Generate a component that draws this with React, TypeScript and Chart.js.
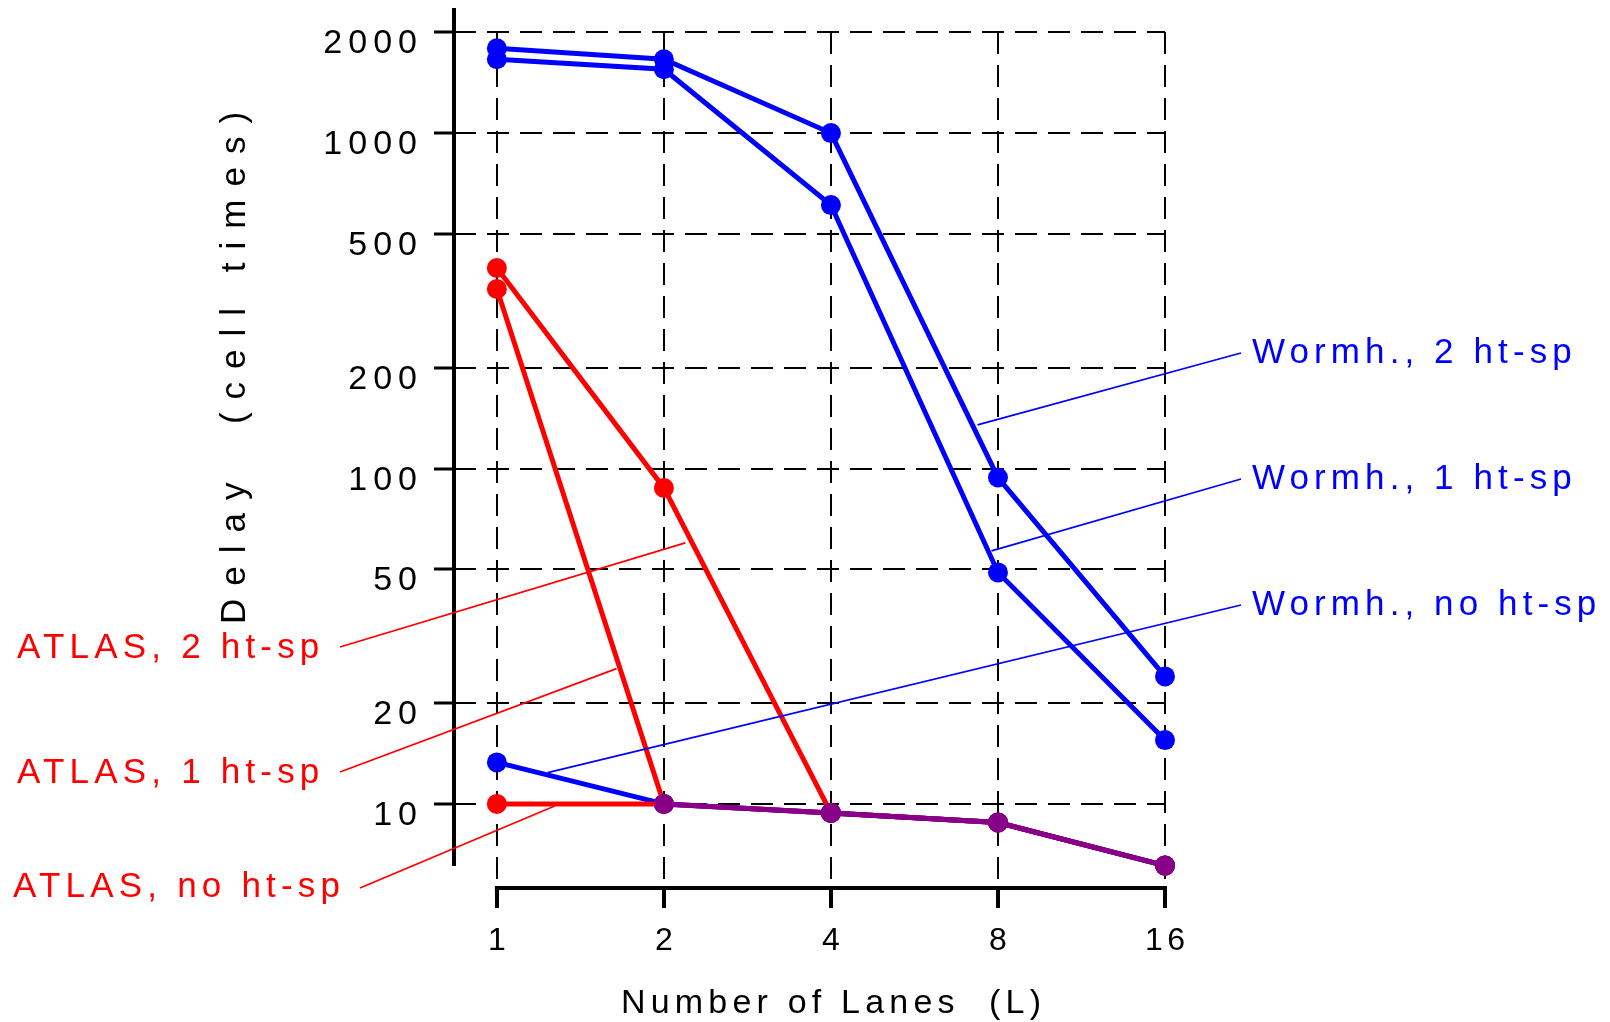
import React, { useEffect, useRef } from "react";
import { Chart, registerables } from "chart.js";

Chart.register(...registerables);

// ---------------- data ----------------
const lanes = [1, 2, 4, 8, 16];
const yTickValues = [10, 20, 50, 100, 200, 500, 1000, 2000];
const yTickLabels = ["10", "20", "50", "100", "200", "500", "1000", "2000"];
const xTickLabels = ["1", "2", "4", "8", "16"];

const wormh2 = [1790, 1660, 1000, 94, 24];
const wormh1 = [1660, 1550, 610, 49, 15.5];
const wormh0 = [13.3, 10, 9.4, 8.8, 6.55];
const atlas2 = [396, 87.5, 9.4, 8.8, 6.55];
const atlas1 = [343, 10, 9.4, 8.8, 6.55];
const atlas0 = [10, 10, 9.4, 8.8, 6.55];

// index from which each series is drawn in the shared (purple) colour
const wormh2Shared = 99;
const wormh1Shared = 99;
const wormh0Shared = 1;
const atlas2Shared = 2;
const atlas1Shared = 1;
const atlas0Shared = 1;

const xTitle = "Number of Lanes  (L)";
const yTitle = "Delay  (cell times)";

// annotation labels and the data-space point each leader line touches
const rightLabels = ["Wormh., 2 ht-sp", "Wormh., 1 ht-sp", "Wormh., no ht-sp"];
const rightAnchorX = [7.35, 7.79, 1.235];
const rightAnchorY = [135, 56.8, 12.4];
const leftLabels = ["ATLAS, 2 ht-sp", "ATLAS, 1 ht-sp", "ATLAS, no ht-sp"];
const leftAnchorX = [2.186, 1.643, 1.271];
const leftAnchorY = [60, 25.3, 9.86];

// ---------------- styles ----------------
const BLUE = "#0000ff";
const RED = "#ff0000";
const PURPLE = "#880088";
const FONT = '"Liberation Sans", Arial, Helvetica, sans-serif';

// text placement (pixels)
const rightTextX = 1252;
const rightBaselines = [363, 489, 615];
const leftTextX = [17, 17, 13];
const leftBaselines = [658, 783, 897];
const leftLeaderStart = [
  [340, 647],
  [340, 772],
  [360, 888],
];

function spaced(
  ctx: CanvasRenderingContext2D,
  text: string,
  x: number,
  y: number,
  ls: number,
  align: "left" | "right" | "center"
) {
  (ctx as any).letterSpacing = ls + "px";
  ctx.textAlign = "left";
  const w = ctx.measureText(text).width - ls;
  const sx = align === "left" ? x : align === "right" ? x - w : x - w / 2;
  ctx.fillText(text, sx, y);
  (ctx as any).letterSpacing = "0px";
}

function line(ctx: CanvasRenderingContext2D, x1: number, y1: number, x2: number, y2: number) {
  ctx.beginPath();
  ctx.moveTo(x1, y1);
  ctx.lineTo(x2, y2);
  ctx.stroke();
}

const decorPlugin = {
  id: "decor",
  beforeDatasetsDraw(chart: any) {
    const ctx: CanvasRenderingContext2D = chart.ctx;
    const xs = chart.scales.x;
    const ys = chart.scales.y;
    const area = chart.chartArea;
    ctx.save();
    ctx.strokeStyle = "#000";
    ctx.lineWidth = 2;
    ctx.setLineDash([22, 11]);
    const xRight = xs.getPixelForValue(lanes[lanes.length - 1]);
    for (const v of yTickValues) {
      const y = Math.round(ys.getPixelForValue(v));
      line(ctx, area.left, y, xRight, y);
    }
    const yTop = Math.round(ys.getPixelForValue(yTickValues[yTickValues.length - 1]));
    const yBot = area.bottom + 18;
    for (const L of lanes) {
      const x = Math.round(xs.getPixelForValue(L));
      line(ctx, x, yTop, x, yBot);
    }
    ctx.restore();
  },
  afterDraw(chart: any) {
    const ctx: CanvasRenderingContext2D = chart.ctx;
    const xs = chart.scales.x;
    const ys = chart.scales.y;
    const area = chart.chartArea;
    ctx.save();
    ctx.setLineDash([]);
    ctx.strokeStyle = "#000";
    ctx.lineCap = "butt";

    // y axis
    ctx.lineWidth = 4;
    line(ctx, area.left, area.top, area.left, area.bottom);
    ctx.lineWidth = 3;
    for (const v of yTickValues) {
      const y = Math.round(ys.getPixelForValue(v));
      line(ctx, area.left - 20, y, area.left, y);
    }

    // x axis
    const axisY = area.bottom + 22;
    const x0 = xs.getPixelForValue(lanes[0]);
    const x1 = xs.getPixelForValue(lanes[lanes.length - 1]);
    ctx.lineWidth = 4;
    line(ctx, x0 - 2, axisY, x1 + 2, axisY);
    for (const L of lanes) {
      const x = Math.round(xs.getPixelForValue(L));
      line(ctx, x, axisY, x, axisY + 20);
    }

    // tick labels
    ctx.fillStyle = "#000";
    ctx.textBaseline = "alphabetic";
    ctx.font = `34px ${FONT}`;
    yTickValues.forEach((v, i) => {
      const y = ys.getPixelForValue(v);
      spaced(ctx, yTickLabels[i], area.left - 37, y + 21, 6, "right");
    });
    ctx.font = `32px ${FONT}`;
    lanes.forEach((L, i) => {
      const x = xs.getPixelForValue(L);
      spaced(ctx, xTickLabels[i], x, axisY + 62, 4.5, "center");
    });

    // titles
    ctx.font = `34px ${FONT}`;
    spaced(ctx, xTitle, (x0 + x1) / 2, area.bottom + 147, 5.2, "center");
    ctx.save();
    ctx.translate(245, 368);
    ctx.rotate(-Math.PI / 2);
    ctx.font = `35px ${FONT}`;
    spaced(ctx, yTitle, 0, 0, 13, "center");
    ctx.restore();

    // annotations
    ctx.font = `35px ${FONT}`;
    ctx.lineWidth = 1.8;
    ctx.strokeStyle = BLUE;
    ctx.fillStyle = BLUE;
    rightLabels.forEach((t, i) => {
      const ax = xs.getPixelForValue(rightAnchorX[i]);
      const ay = ys.getPixelForValue(rightAnchorY[i]);
      line(ctx, ax, ay, rightTextX - 11, rightBaselines[i] - 10);
      spaced(ctx, t, rightTextX, rightBaselines[i], 5.1, "left");
    });
    ctx.strokeStyle = RED;
    ctx.fillStyle = RED;
    leftLabels.forEach((t, i) => {
      const ax = xs.getPixelForValue(leftAnchorX[i]);
      const ay = ys.getPixelForValue(leftAnchorY[i]);
      line(ctx, leftLeaderStart[i][0], leftLeaderStart[i][1], ax, ay);
      spaced(ctx, t, leftTextX[i], leftBaselines[i], 5.2, "left");
    });
    ctx.restore();
  },
};

function makeDataset(label: string, values: number[], color: string, sharedFrom: number) {
  return {
    label,
    data: values.map((v, i) => ({ x: lanes[i], y: v })),
    borderColor: color,
    borderWidth: 5,
    pointRadius: 10,
    pointBorderWidth: 0,
    pointBackgroundColor: values.map((_, i) => (i >= sharedFrom ? PURPLE : color)),
    pointBorderColor: values.map((_, i) => (i >= sharedFrom ? PURPLE : color)),
    segment: {
      borderColor: (c: any) => (c.p0DataIndex >= sharedFrom ? PURPLE : color),
    },
    tension: 0,
    fill: false,
    clip: false as any,
  };
}

export default function App() {
  const ref = useRef<HTMLCanvasElement | null>(null);
  useEffect(() => {
    if (!ref.current) return;
    const chart = new Chart(ref.current, {
      type: "line",
      data: {
        datasets: [
          makeDataset("ATLAS, no ht-sp", atlas0, RED, atlas0Shared),
          makeDataset("ATLAS, 1 ht-sp", atlas1, RED, atlas1Shared),
          makeDataset("ATLAS, 2 ht-sp", atlas2, RED, atlas2Shared),
          makeDataset("Wormh., no ht-sp", wormh0, BLUE, wormh0Shared),
          makeDataset("Wormh., 1 ht-sp", wormh1, BLUE, wormh1Shared),
          makeDataset("Wormh., 2 ht-sp", wormh2, BLUE, wormh2Shared),
        ] as any,
      },
      options: {
        responsive: false,
        animation: false,
        events: [],
        layout: {
          padding: { left: 454, right: 445, top: 8, bottom: 156 },
          autoPadding: false,
        } as any,
        plugins: {
          legend: { display: false },
          tooltip: { enabled: false },
        },
        scales: {
          x: { type: "logarithmic", min: 0.837, max: 16, bounds: "data", display: false },
          y: { type: "logarithmic", min: 6.53, max: 2360, bounds: "data", display: false },
        } as any,
      },
      plugins: [decorPlugin],
    });
    return () => chart.destroy();
  }, []);
  return (
    <div
      style={{
        position: "fixed",
        left: 0,
        top: 0,
        width: 1610,
        height: 1022,
        background: "#fff",
      }}
    >
      <canvas ref={ref} width={1610} height={1022} style={{ display: "block" }} />
    </div>
  );
}
